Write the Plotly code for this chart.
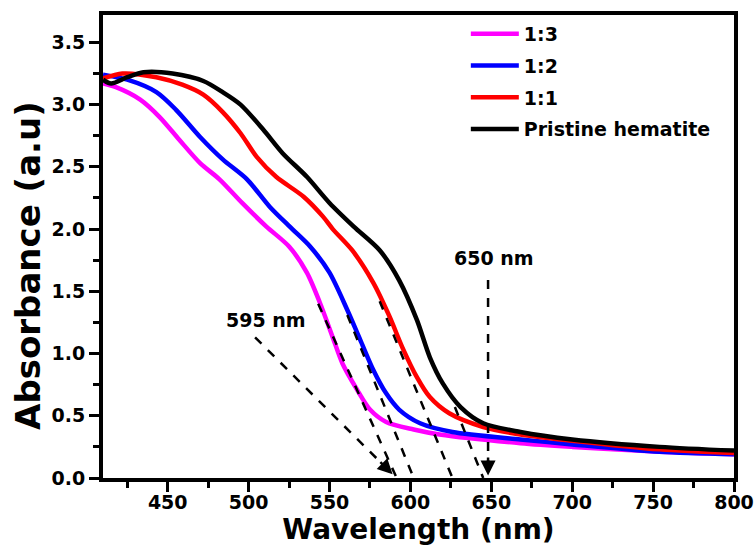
import plotly.graph_objects as go

# ---------------- data ----------------
series_names = ["1:3", "1:2", "1:1", "Pristine hematite"]
series_colors = ["#FF00FF", "#0000FF", "#FF0000", "#000000"]

wl_13 = [410, 418, 433, 445, 457, 470, 482, 496, 511, 525, 536, 544, 552, 558, 567, 575, 585, 602, 618, 668, 700, 754, 800]
abs_13 = [3.17, 3.14, 3.04, 2.90, 2.72, 2.53, 2.40, 2.21, 2.02, 1.86, 1.65, 1.41, 1.13, 0.92, 0.71, 0.55, 0.45, 0.39, 0.35, 0.28, 0.25, 0.21, 0.19]

wl_12 = [410, 425, 443, 455, 470, 484, 499, 513, 527, 538, 550, 561, 569, 577, 585, 593, 606, 626, 668, 700, 754, 800]
abs_12 = [3.24, 3.20, 3.10, 2.96, 2.74, 2.56, 2.40, 2.18, 2.00, 1.86, 1.65, 1.35, 1.11, 0.87, 0.68, 0.55, 0.44, 0.37, 0.31, 0.27, 0.21, 0.19]

wl_11 = [410, 422, 443, 459, 472, 484, 495, 505, 517, 534, 546, 552, 564, 577, 587, 595, 604, 612, 624, 645, 668, 700, 754, 800]
abs_11 = [3.21, 3.25, 3.22, 3.16, 3.08, 2.94, 2.77, 2.58, 2.42, 2.26, 2.10, 2.00, 1.83, 1.57, 1.30, 1.05, 0.81, 0.65, 0.52, 0.41, 0.35, 0.30, 0.23, 0.20]

wl_pr = [410, 415, 425, 435, 453, 472, 484, 495, 509, 521, 536, 550, 565, 581, 593, 604, 612, 620, 631, 645, 668, 700, 754, 800]
abs_pr = [3.20, 3.17, 3.22, 3.26, 3.25, 3.19, 3.10, 3.00, 2.80, 2.61, 2.42, 2.21, 2.02, 1.83, 1.59, 1.27, 0.97, 0.76, 0.57, 0.44, 0.37, 0.31, 0.25, 0.22]

# tangent (band-edge) lines: start point on curve -> x-intercept
tangent_start_x = [543, 561, 581, 627.5]
tangent_start_y = [1.40, 1.31, 1.42, 0.57]
tangent_end_x = [591.5, 602, 626, 645]

# pointer arrows (tail -> tip)
arrow_tail_x = [504, 648]
arrow_tail_y = [1.13, 1.59]
arrow_tip_x = [589, 648]
arrow_tip_y = [0.03, 0.02]

label_text = ["595 nm", "650 nm"]
label_x = [510.5, 651.5]
label_y = [1.27, 1.77]

x_ticks = [450, 500, 550, 600, 650, 700, 750, 800]
y_ticks = [0.0, 0.5, 1.0, 1.5, 2.0, 2.5, 3.0, 3.5]

# ---------------- figure ----------------
FONT = "DejaVu Sans"
fig = go.Figure()

all_x = [wl_13, wl_12, wl_11, wl_pr]
all_y = [abs_13, abs_12, abs_11, abs_pr]
for name, col, xs, ys in zip(series_names, series_colors, all_x, all_y):
    fig.add_trace(go.Scatter(x=xs, y=ys, mode="lines", name=name, legendgroup=name,
                             line=dict(color=col, width=4.5, shape="spline", smoothing=0.8)))

for x0, y0, x1 in zip(tangent_start_x, tangent_start_y, tangent_end_x):
    fig.add_shape(type="line", xref="x", yref="y", x0=x0, y0=y0, x1=x1, y1=0,
                  line=dict(color="black", width=2.5, dash="dash"))

for tx, ty, hx, hy in zip(arrow_tail_x, arrow_tail_y, arrow_tip_x, arrow_tip_y):
    fig.add_shape(type="line", xref="x", yref="y", x0=tx, y0=ty, x1=hx, y1=hy,
                  line=dict(color="black", width=2.5, dash="dash"))
    fx = hx - (hx - tx) * 0.1
    fy = hy + (ty - hy) * 0.1
    fig.add_annotation(x=hx, y=hy, ax=fx, ay=fy, xref="x", yref="y", axref="x", ayref="y",
                       text="", showarrow=True, arrowhead=2, arrowsize=1.2, arrowwidth=2.5,
                       arrowcolor="black")

for t, lx, ly in zip(label_text, label_x, label_y):
    fig.add_annotation(x=lx, y=ly, xref="x", yref="y", text="<b>%s</b>" % t, showarrow=False,
                       font=dict(family=FONT, size=19, color="black"))

# y-axis title placed as a rotated annotation (sits a little below plot centre)
fig.add_annotation(x=-0.119, y=0.46, xref="paper", yref="paper", xanchor="center", yanchor="middle",
                   text="<b>Absorbance (a.u)</b>", textangle=-90, showarrow=False,
                   font=dict(family=FONT, size=34, color="black"))

fig.update_layout(
    width=756, height=557,
    margin=dict(l=103, r=22, t=15, b=79),
    paper_bgcolor="white", plot_bgcolor="white",
    font=dict(family=FONT, color="black"),
    showlegend=True,
    legend=dict(x=0.575, y=1.0, xanchor="left", yanchor="top",
                bgcolor="rgba(0,0,0,0)", borderwidth=0,
                font=dict(family=FONT, size=19, color="black", weight="bold"),
                itemwidth=48, tracegroupgap=4),
)

fig.update_xaxes(
    range=[410, 800], tickvals=x_ticks, ticktext=["<b>%d</b>" % v for v in x_ticks],
    ticks="outside", ticklen=10, tickwidth=3, tickcolor="black",
    minor=dict(dtick=25, tick0=0, ticks="outside", ticklen=6, tickwidth=3, tickcolor="black"),
    showline=True, linewidth=4, linecolor="black", mirror=True,
    showgrid=False, zeroline=False, automargin=False,
    tickfont=dict(family=FONT, size=19, color="black"),
    ticklabelstandoff=-6,
    title=dict(text="<b>Wavelength (nm)</b>", font=dict(family=FONT, size=28, color="black"), standoff=4),
)
fig.update_yaxes(
    range=[0, 3.72], tickvals=y_ticks, ticktext=["<b>%.1f</b>" % v for v in y_ticks],
    ticks="outside", ticklen=10, tickwidth=3, tickcolor="black",
    minor=dict(dtick=0.25, tick0=0, ticks="outside", ticklen=6, tickwidth=3, tickcolor="black"),
    showline=True, linewidth=4, linecolor="black", mirror=True,
    showgrid=False, zeroline=False, automargin=False,
    tickfont=dict(family=FONT, size=19, color="black"),
)

fig.write_html("out.html", config={"displayModeBar": False},
               post_script="document.body.style.margin='0px';")
